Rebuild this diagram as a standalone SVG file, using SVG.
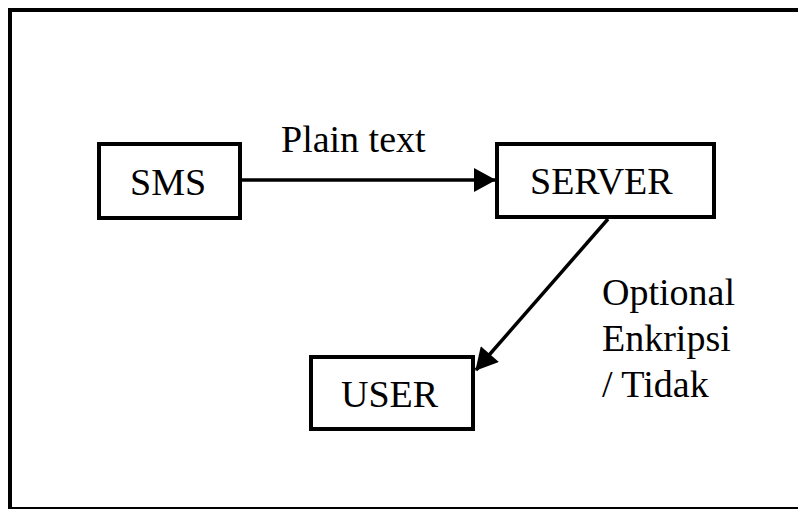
<svg xmlns="http://www.w3.org/2000/svg" width="798" height="509" viewBox="0 0 798 509">
<style>
.box{fill:#fff;stroke:#000;stroke-width:4}
.lbl{font-family:"Liberation Serif","Times New Roman",serif;font-size:38px;fill:#000}
.conn{stroke:#000;stroke-width:3.5;fill:none}
</style>
<defs>
<marker id="arr" markerUnits="userSpaceOnUse" markerWidth="24" markerHeight="24" viewBox="0 0 22 24" refX="21" refY="12" orient="auto">
<path d="M0,0 L22,12 L0,24 Z" fill="#000"/>
</marker>
</defs>
<rect width="798" height="509" fill="#fff"/>
<rect x="10" y="10" width="800" height="499" fill="none" stroke="#000" stroke-width="4"/>
<g id="connectors">
<line class="conn" x1="242" y1="180" x2="495" y2="180" marker-end="url(#arr)"/>
<line class="conn" x1="608" y1="219" x2="476" y2="370" marker-end="url(#arr)"/>
<text class="lbl" x="281" y="152">Plain text</text>
<text class="lbl" x="602" y="305">Optional</text>
<text class="lbl" x="602" y="351">Enkripsi</text>
<text class="lbl" x="602" y="397">/ Tidak</text>
</g>
<g id="sms">
<rect class="box" x="99" y="144" width="141" height="74"/>
<text class="lbl" x="130" y="195">SMS</text>
</g>
<g id="server">
<rect class="box" x="497" y="144" width="217" height="73"/>
<text class="lbl" x="530" y="194">SERVER</text>
</g>
<g id="user">
<rect class="box" x="311" y="357" width="162" height="72"/>
<text class="lbl" x="341" y="407">USER</text>
</g>
</svg>
